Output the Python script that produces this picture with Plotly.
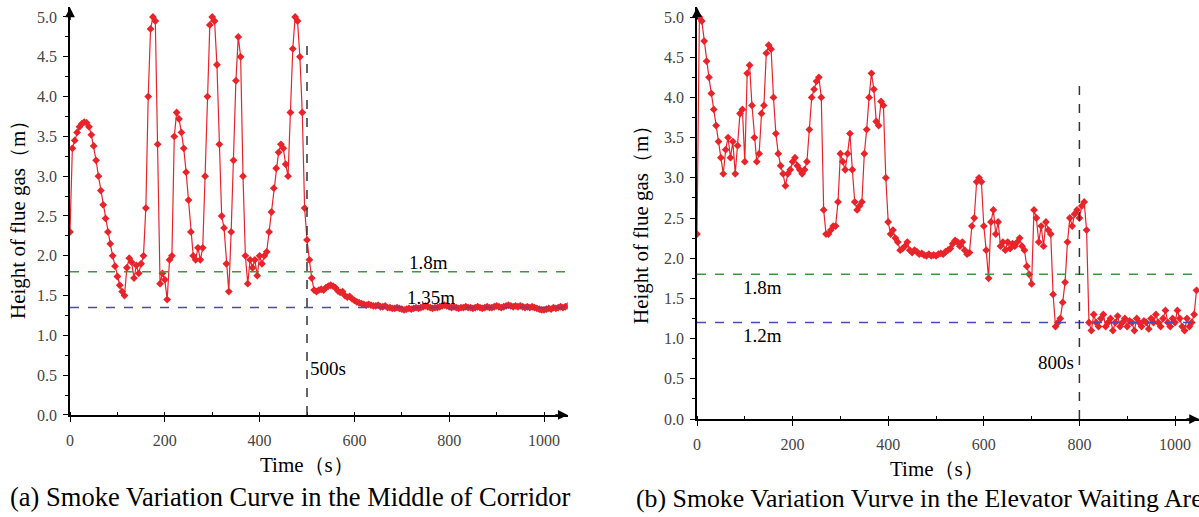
import plotly.graph_objects as go

# ---------------- data ----------------
time_a = list(range(0, 1055, 5))
height_a = [
    2.3, 3.35, 3.45, 3.55, 3.62, 3.66, 3.68, 3.67, 3.62, 3.52,
    3.38, 3.2, 3.0, 2.82, 2.64, 2.47, 2.3, 2.15, 2.0, 1.87,
    1.74, 1.63, 1.55, 1.5, 1.85, 1.97, 1.92, 1.72, 1.88, 1.78,
    1.9, 2.0, 2.6, 4.0, 4.85, 5.0, 4.95, 3.4, 1.65, 1.78,
    1.7, 1.45, 1.95, 2.0, 3.5, 3.8, 3.72, 3.55, 3.35, 3.05,
    2.7, 2.3, 2.0, 1.95, 2.1, 1.95, 2.1, 3.0, 4.0, 4.9,
    5.0, 4.95, 4.4, 3.4, 2.5, 2.35, 1.9, 1.55, 2.3, 3.2,
    4.2, 4.75, 4.5, 3.0, 2.0, 1.65, 1.95, 1.85, 1.95, 1.75,
    2.0, 1.9, 2.0, 2.05, 2.3, 2.55, 2.85, 3.1, 3.3, 3.4,
    3.35, 3.15, 3.0, 3.8, 4.6, 5.0, 4.95, 4.5, 3.8, 2.6,
    2.2, 1.95, 1.72, 1.57, 1.55, 1.57, 1.58, 1.57, 1.6, 1.62,
    1.63, 1.62, 1.6, 1.56, 1.54, 1.55, 1.5, 1.48, 1.49, 1.46,
    1.44, 1.42, 1.41, 1.4, 1.39, 1.38, 1.39, 1.38, 1.37, 1.37,
    1.38, 1.36, 1.36, 1.37, 1.35, 1.35, 1.34, 1.34, 1.35, 1.34,
    1.33, 1.32, 1.33, 1.34, 1.33, 1.34, 1.35, 1.34, 1.35, 1.36,
    1.37, 1.36, 1.35, 1.34, 1.35, 1.35, 1.36, 1.37, 1.38, 1.37,
    1.36, 1.35, 1.36, 1.35, 1.34, 1.35, 1.35, 1.36, 1.35, 1.35,
    1.34, 1.35, 1.36, 1.35, 1.34, 1.35, 1.36, 1.35, 1.35, 1.36,
    1.37, 1.36, 1.35, 1.36, 1.37, 1.38, 1.37, 1.36, 1.37, 1.36,
    1.37, 1.36, 1.35, 1.36, 1.35, 1.36, 1.35, 1.34, 1.33, 1.32,
    1.32, 1.33, 1.34, 1.33, 1.35, 1.34, 1.35, 1.36, 1.35, 1.36,
    1.37,
]

time_b = list(range(0, 1050, 5))
height_b = [
    2.3, 5.0, 4.95, 4.7, 4.45, 4.25, 4.05, 3.85, 3.65, 3.45,
    3.25, 3.05, 3.35, 3.5, 3.25, 3.45, 3.05, 3.4, 3.8, 3.85,
    3.2, 4.3, 4.4, 3.9, 3.5, 3.2, 3.3, 3.8, 3.9, 4.55,
    4.65, 4.6, 4.0, 3.55, 3.3, 3.15, 3.05, 2.9, 3.05, 3.1,
    3.2, 3.25, 3.15, 3.1, 3.05, 3.1, 3.2, 3.6, 4.0, 4.1,
    4.2, 4.25, 4.0, 2.6, 2.3, 2.3, 2.35, 2.4, 2.4, 2.7,
    3.3, 3.2, 3.1, 3.3, 3.55, 3.1, 2.7, 2.6, 2.65, 2.7,
    3.3, 3.6, 4.0, 4.3, 4.1, 3.7, 3.65, 3.95, 3.9, 3.0,
    2.45, 2.3, 2.35, 2.25, 2.2, 2.1, 2.12, 2.15, 2.2, 2.1,
    2.07, 2.1, 2.08, 2.05, 2.06, 2.04, 2.03, 2.05, 2.03, 2.04,
    2.03, 2.05, 2.06, 2.05, 2.08, 2.1, 2.12, 2.18, 2.22, 2.2,
    2.15, 2.2, 2.1, 2.05, 2.07, 2.4, 2.5, 2.95, 3.0, 2.95,
    2.4, 2.1, 1.75, 2.45, 2.6, 2.3, 2.45, 2.15, 2.2, 2.1,
    2.2, 2.12, 2.18, 2.15, 2.2, 2.25, 2.15, 2.1, 1.9, 1.8,
    1.68, 2.6, 2.5, 2.2, 2.4, 2.15, 2.45, 2.35, 2.3, 1.55,
    1.15, 1.2, 1.25, 1.45, 1.7, 2.2, 2.5, 2.4, 2.55, 2.6,
    2.5, 2.65, 2.7, 2.35, 1.2, 1.1, 1.3, 1.2, 1.15, 1.25,
    1.3, 1.15, 1.2, 1.25, 1.1, 1.2, 1.28, 1.15, 1.2, 1.25,
    1.15, 1.22, 1.2, 1.1, 1.25, 1.2, 1.15, 1.22, 1.2, 1.12,
    1.25, 1.2, 1.3, 1.2, 1.15, 1.25, 1.35, 1.2, 1.15, 1.25,
    1.2, 1.35, 1.25, 1.15, 1.1, 1.25, 1.15, 1.2, 1.3, 1.6,
]

# reference lines
green_a, blue_a, vline_a = 1.8, 1.35, 500
green_b, blue_b, vline_b = 1.8, 1.2, 800

y_ticks = [0.0, 0.5, 1.0, 1.5, 2.0, 2.5, 3.0, 3.5, 4.0, 4.5, 5.0]
x_ticks = [0, 200, 400, 600, 800, 1000]

RED = "#e8242a"
SERIF = "Liberation Serif, Times New Roman, serif"
W, H = 1199, 517

fig = go.Figure()
fig.add_trace(go.Scatter(
    x=time_a, y=height_a, mode="lines+markers", xaxis="x", yaxis="y",
    line=dict(color=RED, width=1.2),
    marker=dict(symbol="diamond", size=6, color=RED), showlegend=False))
fig.add_trace(go.Scatter(
    x=time_b, y=height_b, mode="lines+markers", xaxis="x2", yaxis="y2",
    line=dict(color=RED, width=1.2),
    marker=dict(symbol="diamond", size=6, color=RED), showlegend=False))

# axes geometry (pixel anchors)
XA0, XA_PPU = 70, 0.474
XB0, XB_PPU = 697, 0.478
YA0, YA_PPU = 415, 79.6
YB0, YB_PPU = 419, 80.4
xa_range = [0, 1050]
xb_range = [0, (W - XB0) / XB_PPU]
y_range = [0, 5.12]

def xaxis_cfg(domain, rng):
    return dict(domain=domain, range=rng, tickvals=x_ticks, ticktext=[str(v) for v in x_ticks],
                showline=True, linecolor="black", linewidth=1.5, ticks="outside", ticklen=5,
                tickcolor="black", tickwidth=1.2, automargin=False, ticklabelstandoff=5,
                minor=dict(dtick=100, ticks="inside", ticklen=3, tickcolor="black"),
                showgrid=False, zeroline=False,
                tickfont=dict(family=SERIF, size=16, color="#444"))

def yaxis_cfg(domain):
    return dict(domain=domain, range=y_range, tickvals=y_ticks,
                ticktext=[f"{v:.1f}" for v in y_ticks],
                showline=True, linecolor="black", linewidth=1.5, ticks="outside", ticklen=5,
                tickcolor="black", tickwidth=1.2, automargin=False, ticklabelstandoff=3,
                minor=dict(dtick=0.25, ticks="outside", ticklen=3, tickcolor="black"),
                showgrid=False, zeroline=False,
                tickfont=dict(family=SERIF, size=16, color="#444"))

xa = xaxis_cfg([XA0 / W, (XA0 + xa_range[1] * XA_PPU) / W], xa_range); xa["anchor"] = "y"
xb = xaxis_cfg([XB0 / W, 1.0], xb_range); xb["anchor"] = "y2"
ya = yaxis_cfg([(H - YA0) / H, (H - YA0 + y_range[1] * YA_PPU) / H]); ya["anchor"] = "x"
yb = yaxis_cfg([(H - YB0) / H, (H - YB0 + y_range[1] * YB_PPU) / H]); yb["anchor"] = "x2"

shapes = []
def hline(xref, yref, y, x1, color):
    shapes.append(dict(type="line", xref=xref, yref=yref, x0=0, x1=x1, y0=y, y1=y,
                       line=dict(color=color, width=1.5, dash="dash")))
hline("x", "y", green_a, xa_range[1], "#3c9a3c")
hline("x", "y", blue_a, xa_range[1], "#4a4ab8")
hline("x2", "y2", green_b, xb_range[1], "#3c9a3c")
hline("x2", "y2", blue_b, xb_range[1], "#4a4ab8")
shapes.append(dict(type="line", xref="x", yref="y", x0=vline_a, x1=vline_a, y0=0, y1=4.73,
                   line=dict(color="#333", width=1.5, dash="dash")))
shapes.append(dict(type="line", xref="x2", yref="y2", x0=vline_b, x1=vline_b, y0=0, y1=4.2,
                   line=dict(color="#333", width=1.5, dash="dash")))

ann = []
def label(text, xref, yref, x, y, size=19):
    ann.append(dict(text=text, xref=xref, yref=yref, x=x, y=y, showarrow=False,
                    font=dict(family=SERIF, size=size, color="black")))
label("1.8m", "x", "y", 756, 1.91)
label("1.35m", "x", "y", 762, 1.47)
label("500s", "x", "y", 545, 0.59)
label("1.8m", "x2", "y2", 137, 1.63)
label("1.2m", "x2", "y2", 137, 1.04)
label("800s", "x2", "y2", 752, 0.70)

# axis arrows
def arrow(xref, yref, x, y, ax, ay):
    ann.append(dict(text="", xref=xref, yref=yref, x=x, y=y, ax=ax, ay=ay, showarrow=True,
                    arrowhead=2, arrowsize=1.3, arrowwidth=1.5, arrowcolor="black"))
arrow("x", "y", xa_range[1], 0, -14, 0)
arrow("x", "y", 0, y_range[1], 0, 14)
arrow("x2", "y2", xb_range[1], 0, -14, 0)
arrow("x2", "y2", 0, y_range[1], 0, 14)

def ptext(text, x, y, size, angle=0, xanchor="center"):
    ann.append(dict(text=text, xref="paper", yref="paper", x=x / W, y=1 - y / H,
                    showarrow=False, textangle=angle, xanchor=xanchor, yanchor="middle",
                    font=dict(family=SERIF, size=size, color="black")))
ptext("Height of flue gas（m）", 18, 215, 21, -90)
ptext("Height of flue gas（m）", 641, 220, 21, -90)
ptext("Time（s）", 307, 465, 21)
ptext("Time（s）", 937, 469, 21)
ptext("(a) Smoke Variation Curve in the Middle of Corridor", 8, 497, 26.5, xanchor="left")
ptext("(b) Smoke Variation Vurve in the Elevator Waiting Area", 634, 498, 25.8, xanchor="left")

fig.update_layout(
    width=W, height=H, margin=dict(l=0, r=0, t=0, b=0, autoexpand=False),
    paper_bgcolor="white", plot_bgcolor="white",
    xaxis=xa, yaxis=ya, xaxis2=xb, yaxis2=yb,
    shapes=shapes, annotations=ann, showlegend=False,
)
fig.write_html("out.html", config={"displayModeBar": False},
               post_script="document.body.style.margin='0px';")
